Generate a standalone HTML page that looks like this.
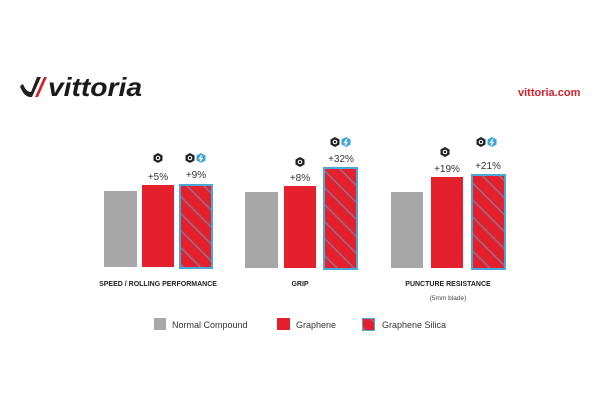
<!DOCTYPE html>
<html><head><meta charset="utf-8"><style>
body{margin:0;background:#fff;}
svg text{font-family:"Liberation Sans",sans-serif;}
</style></head><body>
<svg width="600" height="407" viewBox="0 0 600 407" xmlns="http://www.w3.org/2000/svg">
<defs>
<pattern id="h" patternUnits="userSpaceOnUse" width="12" height="12" patternTransform="rotate(-45)">
<rect width="12" height="12" fill="#e3202b"/>
<rect x="0" y="0" width="1.6" height="12" fill="#9a6a8a"/>
</pattern>
<g id="ic"><polygon points="0,-5 4.5,-2.5 4.5,2.5 0,5 -4.5,2.5 -4.5,-2.5" fill="#222"/><circle r="2.3" fill="#fff"/><circle r="1.2" fill="#222"/></g>
<g id="ic2"><polygon points="0,-5 4.5,-2.5 4.5,2.5 0,5 -4.5,2.5 -4.5,-2.5" fill="#3aa6d8"/><path d="M1,-3 L-1.5,0.5 L1,0.5 L-1,3.5" stroke="#fff" stroke-width="1.2" fill="none"/></g>
</defs>
<rect width="600" height="407" fill="#fff"/>
<path d="M20,86 Q24,98 32,97 L41,77 L37,77 L31,92 Q26,92 23,84 Z" fill="#222"/>
<path d="M35,97 L44,77 L47,77 L38,97 Z" fill="#d9202a"/>
<text x="48" y="96" font-size="26" font-weight="bold" font-style="italic" fill="#1a1a1a" textLength="94" lengthAdjust="spacingAndGlyphs">vittoria</text>
<text x="518" y="96" font-size="11" font-weight="bold" fill="#d9202a">vittoria.com</text>
<rect x="104" y="191" width="33" height="76" fill="#a7a7a7"/>
<rect x="142" y="185" width="32" height="82" fill="#e3202b"/>
<rect x="180" y="185" width="32" height="83" fill="url(#h)" stroke="#4aa8d8" stroke-width="2"/>
<text x="158" y="180" font-size="10" text-anchor="middle" fill="#333">+5%</text>
<text x="196" y="178" font-size="10" text-anchor="middle" fill="#333">+9%</text>
<use href="#ic" x="158" y="158"/><use href="#ic" x="190" y="158"/><use href="#ic2" x="201" y="158"/>
<text x="158" y="286" font-size="7" font-weight="bold" text-anchor="middle" fill="#222">SPEED / ROLLING PERFORMANCE</text>
<rect x="245" y="192" width="33" height="76" fill="#a7a7a7"/>
<rect x="284" y="186" width="32" height="82" fill="#e3202b"/>
<rect x="324" y="168" width="33" height="101" fill="url(#h)" stroke="#4aa8d8" stroke-width="2"/>
<text x="300" y="181" font-size="10" text-anchor="middle" fill="#333">+8%</text>
<text x="341" y="162" font-size="10" text-anchor="middle" fill="#333">+32%</text>
<use href="#ic" x="300" y="162"/><use href="#ic" x="335" y="142"/><use href="#ic2" x="346" y="142"/>
<text x="300" y="286" font-size="7" font-weight="bold" text-anchor="middle" fill="#222">GRIP</text>
<rect x="391" y="192" width="32" height="76" fill="#a7a7a7"/>
<rect x="431" y="177" width="32" height="91" fill="#e3202b"/>
<rect x="472" y="175" width="33" height="94" fill="url(#h)" stroke="#4aa8d8" stroke-width="2"/>
<text x="447" y="172" font-size="10" text-anchor="middle" fill="#333">+19%</text>
<text x="488" y="169" font-size="10" text-anchor="middle" fill="#333">+21%</text>
<use href="#ic" x="445" y="152"/><use href="#ic" x="481" y="142"/><use href="#ic2" x="492" y="142"/>
<text x="448" y="286" font-size="7" font-weight="bold" text-anchor="middle" fill="#222">PUNCTURE RESISTANCE</text>
<text x="448" y="300" font-size="6.5" text-anchor="middle" fill="#444">(5mm blade)</text>
<rect x="154" y="318" width="12" height="12" fill="#a7a7a7"/>
<text x="172" y="328" font-size="9" fill="#333">Normal Compound</text>
<rect x="277" y="318" width="13" height="12" fill="#e3202b"/>
<text x="296" y="328" font-size="9" fill="#333">Graphene</text>
<rect x="362.5" y="318.5" width="12" height="12" fill="url(#h)" stroke="#4aa8d8" stroke-width="1"/>
<text x="382" y="328" font-size="9" fill="#333">Graphene Silica</text>
</svg>
</body></html>
